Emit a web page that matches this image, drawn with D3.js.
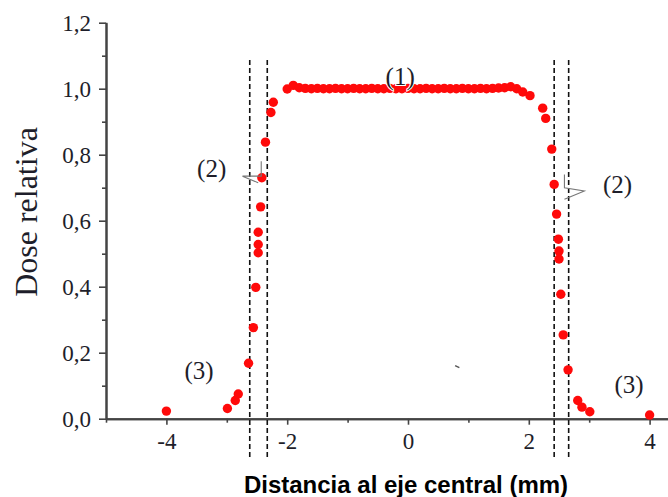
<!DOCTYPE html>
<html>
<head>
<meta charset="utf-8">
<script src="https://cdn.jsdelivr.net/npm/d3@7"></script>
<style>
  body { margin: 0; background: #fff; }
  svg { display: block; }
  .tickText { font-family: "Liberation Serif", "Times New Roman", serif; font-size: 23px; fill: #1e1e2a; }
  .note { font-family: "Liberation Serif", "Times New Roman", serif; font-size: 25px; fill: #1e1e2a; }
</style>
</head>
<body>
<script>
// Measured profile: left penumbra, plateau, right penumbra
var leftX = [-4.0, -2.99, -2.86, -2.81, -2.64, -2.56, -2.52, -2.48, -2.48, -2.48, -2.44, -2.42, -2.36, -2.27, -2.23];
var leftY = [0.023, 0.031, 0.055, 0.075, 0.168, 0.276, 0.398, 0.503, 0.528, 0.565, 0.642, 0.730, 0.838, 0.928, 0.959];

var plateauX = [-2.0, -1.9, -1.8, -1.7, -1.6, -1.5, -1.4, -1.3, -1.2, -1.1, -1.0, -0.9, -0.8, -0.7, -0.6, -0.5, -0.4, -0.3, -0.2, -0.1,
  0.0, 0.1, 0.2, 0.3, 0.4, 0.5, 0.6, 0.7, 0.8, 0.9, 1.0, 1.1, 1.2, 1.3, 1.4, 1.5, 1.6, 1.7, 1.8, 1.9];
var plateauY = [0.999, 1.010, 1.003, 1.001, 1.000, 1.001, 1.000, 1.000, 1.001, 1.000, 1.000, 1.001, 1.000, 1.000, 1.001, 1.000, 1.000, 1.001, 1.000, 1.000,
  1.001, 1.000, 1.000, 1.001, 1.000, 1.000, 1.001, 1.000, 1.000, 1.001, 1.000, 1.000, 1.001, 1.000, 1.001, 1.002, 1.003, 1.006, 1.000, 0.990];

var rightX = [2.02, 2.23, 2.28, 2.38, 2.42, 2.46, 2.49, 2.50, 2.50, 2.53, 2.57, 2.65, 2.81, 2.88, 3.01, 4.0];
var rightY = [0.979, 0.941, 0.910, 0.817, 0.710, 0.620, 0.544, 0.508, 0.484, 0.377, 0.254, 0.148, 0.055, 0.035, 0.021, 0.011];

// Penumbra limits (dashed lines)
var limitX = [-2.62, -2.33, 2.42, 2.66];

// Tick values
var xMajor = [-4, -2, 0, 2, 4];
var xMinor = [-5, -3, -1, 1, 3, 5];
var yMajor = [0, 0.2, 0.4, 0.6, 0.8, 1.0, 1.2];
var yMinor = [0.1, 0.3, 0.5, 0.7, 0.9, 1.1];

// Region labels
var noteText = ["(1)", "(2)", "(2)", "(3)", "(3)"];
var noteX = [-0.13, -3.25, 3.47, -3.46, 3.66];
var noteY = [1.011, 0.731, 0.685, 0.120, 0.079];

var svgWidth = 668;
var svgHeight = 497;

var svg = d3.select("body")
  .append("svg")
  .attr("width", svgWidth)
  .attr("height", svgHeight);

var xScale = d3.scaleLinear().domain([-5, 5]).range([106, 710]);
var yScale = d3.scaleLinear().domain([0, 1.2]).range([418.7, 22.7]);

var points = [];
[[leftX, leftY], [plateauX, plateauY], [rightX, rightY]].forEach(function(s) {
  s[0].forEach(function(x, i) { points.push({ x: x, y: s[1][i] }); });
});

var comma = function(d) { return d3.format(".1f")(d).replace(".", ","); };
var hyphen = function(d) { return String(d); };

// Axes: minor ticks first, then major with labels
function styleAxis(g) {
  g.selectAll("path").attr("stroke", "#444").attr("stroke-width", 2);
  g.selectAll("line").attr("stroke", "#444").attr("stroke-width", 1.6);
}

svg.append("g")
  .attr("transform", "translate(0," + yScale(0) + ")")
  .call(d3.axisBottom(xScale).tickValues(xMinor).tickSize(4).tickSizeOuter(0).tickFormat(""))
  .call(styleAxis);

var xAxisG = svg.append("g")
  .attr("transform", "translate(0," + yScale(0) + ")")
  .call(d3.axisBottom(xScale).tickValues(xMajor).tickSize(6).tickSizeOuter(0).tickPadding(8).tickFormat(hyphen))
  .call(styleAxis);
xAxisG.selectAll("text").attr("class", "tickText").attr("font-size", null).attr("font-family", null)
  .attr("fill", null).attr("dy", "0.71em");

svg.append("g")
  .attr("transform", "translate(" + xScale(-5) + ",0)")
  .call(d3.axisLeft(yScale).tickValues(yMinor).tickSize(4).tickSizeOuter(0).tickFormat(""))
  .call(styleAxis);

var yAxisG = svg.append("g")
  .attr("transform", "translate(" + xScale(-5) + ",0)")
  .call(d3.axisLeft(yScale).tickValues(yMajor).tickSize(7).tickSizeOuter(0).tickPadding(8).tickFormat(comma))
  .call(styleAxis);
yAxisG.selectAll("text").attr("class", "tickText").attr("font-size", null).attr("font-family", null)
  .attr("fill", null);
yAxisG.select(".domain").attr("d", "M0.5," + yScale(0) + "V" + yScale(1.2));

// Dashed penumbra limits
svg.selectAll(".limit")
  .data(limitX)
  .enter()
  .append("line")
  .attr("class", "limit")
  .attr("x1", d => xScale(d))
  .attr("x2", d => xScale(d))
  .attr("y1", yScale(1.087))
  .attr("y2", yScale(-0.125))
  .attr("stroke", "#111")
  .attr("stroke-width", 1.6)
  .attr("stroke-dasharray", "5,3");

// Data points
svg.selectAll(".dot")
  .data(points)
  .enter()
  .append("circle")
  .attr("class", "dot")
  .attr("cx", d => xScale(d.x))
  .attr("cy", d => yScale(d.y))
  .attr("r", 4.7)
  .attr("fill", "#ff0a0a");

// Open arrowheads next to the (2) labels
var arrow = d3.line();
svg.append("path")
  .attr("d", arrow([[xScale(-2.43), yScale(0.78)], [xScale(-2.43), yScale(0.735)],
    [xScale(-2.74), yScale(0.735)], [xScale(-2.48), yScale(0.715)]]))
  .attr("fill", "none").attr("stroke", "#777").attr("stroke-width", 1.1);
svg.append("path")
  .attr("d", arrow([[xScale(2.59), yScale(0.74)], [xScale(2.59), yScale(0.70)],
    [xScale(2.92), yScale(0.69)], [xScale(2.59), yScale(0.665)]]))
  .attr("fill", "none").attr("stroke", "#777").attr("stroke-width", 1.1);

// Small stray mark from the original figure
svg.append("path")
  .attr("d", arrow([[xScale(0.78), yScale(0.161)], [xScale(0.85), yScale(0.155)]]))
  .attr("stroke", "#555").attr("stroke-width", 1.4);

// Region labels
svg.selectAll(".note")
  .data(noteText)
  .enter()
  .append("text")
  .attr("class", "note")
  .attr("x", (d, i) => xScale(noteX[i]))
  .attr("y", (d, i) => yScale(noteY[i]))
  .attr("text-anchor", "middle")
  .style("paint-order", "stroke")
  .style("stroke", "#fff")
  .style("stroke-width", (d, i) => i === 0 ? 2 : 0)
  .text(d => d);

// Axis titles
svg.append("text")
  .attr("transform", "translate(37,212) rotate(-90)")
  .attr("text-anchor", "middle")
  .style("font-family", "'Liberation Serif', 'Times New Roman', serif")
  .style("font-size", "32px")
  .style("fill", "#1e1e2a")
  .text("Dose relativa");

svg.append("text")
  .attr("x", 406)
  .attr("y", 493)
  .attr("text-anchor", "middle")
  .style("font-family", "'Liberation Sans', Arial, sans-serif")
  .style("font-weight", "bold")
  .style("font-size", "24px")
  .style("fill", "#000")
  .text("Distancia al eje central (mm)");
</script>
</body>
</html>
